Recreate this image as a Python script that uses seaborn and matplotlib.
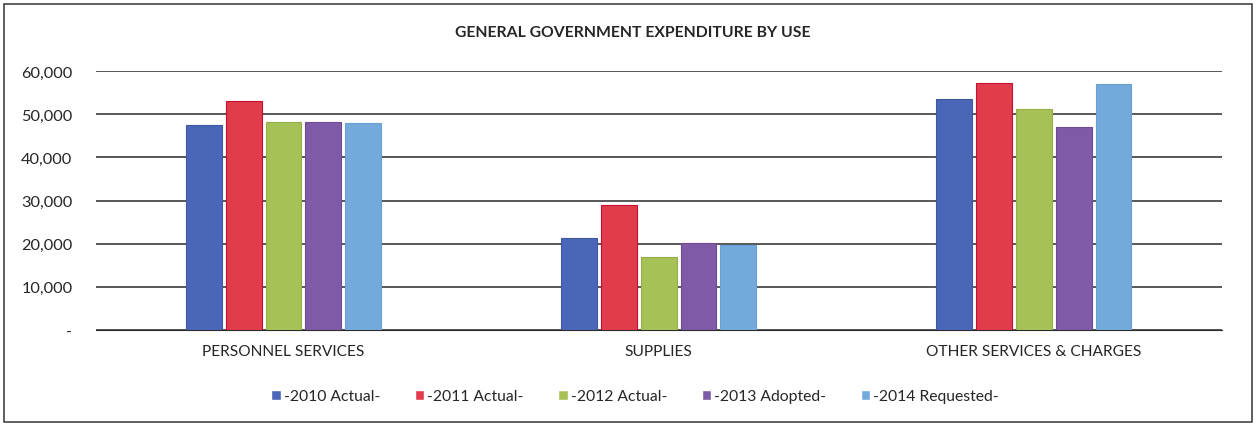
import numpy as np
import pandas as pd
import seaborn as sns
import matplotlib.pyplot as plt
from matplotlib.patches import Rectangle

# data
categories = ["PERSONNEL SERVICES", "SUPPLIES", "OTHER SERVICES & CHARGES"]
series = ["-2010 Actual-", "-2011 Actual-", "-2012 Actual-", "-2013 Adopted-", "-2014 Requested-"]
y2010 = [47600, 21200, 53400]
y2011 = [53000, 29000, 57200]
y2012 = [48100, 16800, 51300]
y2013 = [48100, 20200, 47000]
y2014 = [48000, 19800, 56900]

colors = ["#4A66B8", "#E03C4C", "#A6C257", "#7F5AA6", "#74A9DC"]
edges = ["#3E58A0", "#C8102E", "#94AE48", "#6E4A94", "#66A0D6"]

rows = []
for s, vals in zip(series, [y2010, y2011, y2012, y2013, y2014]):
    for c, v in zip(categories, vals):
        rows.append({"category": c, "series": s, "value": v})
df = pd.DataFrame(rows)

sns.set_style("white")
plt.rcParams["font.family"] = ["Lato", "DejaVu Sans"]

fig = plt.figure(figsize=(12.58, 4.27), dpi=100)
ax = fig.add_axes([0.0763, 0.2248, 0.8947, 0.6066])

sns.barplot(data=df, x="category", y="value", hue="series", order=categories,
            hue_order=series, palette=colors, width=0.53, gap=0.1,
            saturation=1, errorbar=None, ax=ax, zorder=3)

# edge colours per series
for cont, ec in zip(ax.containers, edges):
    for bar in cont:
        bar.set_edgecolor(ec)
        bar.set_linewidth(0.8)

ax.set_ylim(0, 60000)
ax.set_xlim(-0.5, 2.5)
ticks = np.arange(0, 60001, 10000)
ax.set_yticks(ticks)
ax.set_yticklabels(["-"] + [f"{t:,}" for t in ticks[1:]], fontsize=11.8)
ax.tick_params(axis="both", length=0)
ax.tick_params(axis="y", pad=17)
ax.tick_params(axis="x", pad=10, labelsize=11.2)
ax.yaxis.grid(True, color="#2a2a2a", linewidth=1.1, zorder=0)
ax.set_axisbelow(True)
for sp in ["top", "right", "left"]:
    ax.spines[sp].set_visible(False)
ax.spines["bottom"].set_color("#2a2a2a")
ax.set_xlabel("")
ax.set_ylabel("")

fig.text(0.503, 0.923, "GENERAL GOVERNMENT EXPENDITURE BY USE", ha="center", va="center",
         fontsize=11.3, fontweight="bold")

handles, labels = ax.get_legend_handles_labels()
ax.legend_.remove()
fig.legend(handles, labels, loc="center", bbox_to_anchor=(0.505, 0.07), ncol=5,
           frameon=False, fontsize=11.3, handlelength=0.6, handleheight=0.6,
           handletextpad=0.2, columnspacing=2.2)

fig.patches.append(Rectangle((0.003, 0.01), 0.992, 0.978, transform=fig.transFigure,
                             fill=False, edgecolor="#444444", linewidth=1.2))

fig.savefig("out.png", dpi=100)
